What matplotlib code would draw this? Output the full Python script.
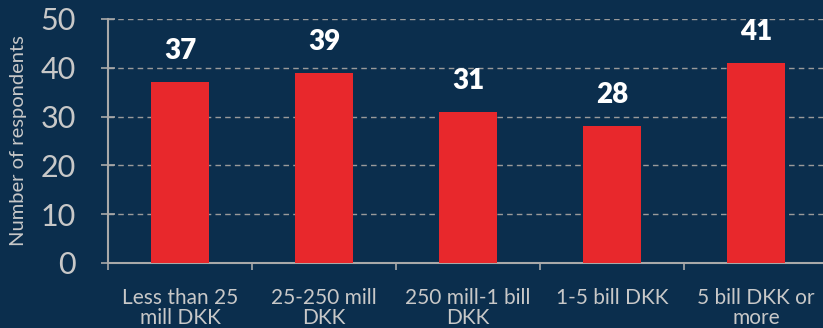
import matplotlib
matplotlib.use("Agg")
import matplotlib.pyplot as plt

categories = ["Less than 25\nmill DKK", "25-250 mill\nDKK", "250 mill-1 bill\nDKK",
              "1-5 bill DKK", "5 bill DKK or\nmore"]
respondents = [37, 39, 31, 28, 41]
yticks = [0, 10, 20, 30, 40, 50]

bg = "#0b2e4d"
red = "#e8282c"
grey = "#a9a9a9"
txt = "#c8c8c8"

plt.rcParams['font.family'] = ['Lato', 'DejaVu Sans']

fig = plt.figure(figsize=(8.23, 3.28), dpi=100, facecolor=bg)
ax = fig.add_axes([108/823, 65/328, 720/823, 244/328])
ax.set_facecolor(bg)

x = range(len(categories))
ax.bar(x, respondents, width=0.4, color=red, zorder=3)

for xi, v in zip(x, respondents):
    ax.annotate(str(v), (xi, v), xytext=(0, 13), textcoords="offset points",
                ha="center", va="bottom", color="white", fontsize=20, fontweight="heavy")

ax.set_xlim(-0.5, 4.5)
ax.set_ylim(0, 50)
ax.set_yticks(yticks)
ax.set_yticklabels([str(t) for t in yticks], fontsize=22, color=txt)
ax.set_xticks([i - 0.5 for i in range(len(categories) + 1)])
ax.set_xticklabels([])
ax.set_xticks(list(x), minor=True)
ax.set_xticklabels(categories, minor=True, fontsize=15, color=txt,
                   linespacing=1.0)
ax.tick_params(axis="x", which="minor", length=0, pad=18)
ax.tick_params(axis="x", which="major", length=5, color=grey, width=1.2)
ax.tick_params(axis="y", direction="inout", length=10, color=grey, width=1.2, pad=18)

ax.set_ylabel("Number of respondents", fontsize=14.5, color=txt)
ax.yaxis.set_label_coords(-0.112, 0.5)

for s in ["top", "right"]:
    ax.spines[s].set_visible(False)
for s in ["left", "bottom"]:
    ax.spines[s].set_color(grey)
    ax.spines[s].set_linewidth(1.5)

ax.grid(axis="y", color="#9a9a9a", linestyle=(0, (4, 3)), linewidth=1)
ax.set_axisbelow(True)

fig.savefig("out.png", dpi=100, facecolor=bg)
